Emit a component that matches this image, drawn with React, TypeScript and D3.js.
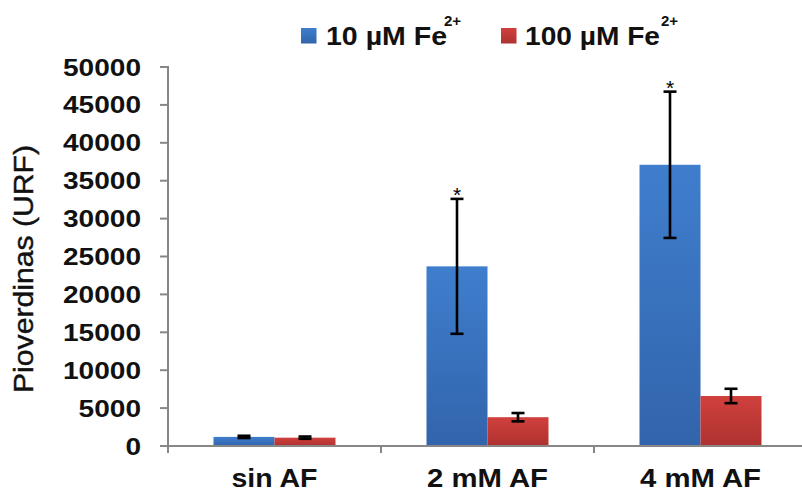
import React from "react";
import * as d3 from "d3";

const categories = ["sin AF", "2 mM AF", "4 mM AF"];
const seriesNames = ["10 µM Fe", "100 µM Fe"];
const values10 = [1200, 23700, 37100];
const errors10 = [150, 8900, 9650];
const values100 = [1100, 3800, 6600];
const errors100 = [150, 550, 950];
const significant10 = [false, true, true];
const yTicks = [0, 5000, 10000, 15000, 20000, 25000, 30000, 35000, 40000, 45000, 50000];

const W = 802;
const H = 491;
const left = 168;
const right = 807;
const y0px = 446;
const ytop = 67;
const FONT = "'Liberation Sans', Arial, Helvetica, sans-serif";

export default function App() {
  const x0 = d3.scaleBand<string>().domain(categories).range([left, right]).padding(0);
  const x1 = d3
    .scaleBand<string>()
    .domain(["s0", "s1"])
    .range([0, x0.bandwidth()])
    .paddingInner(0)
    .paddingOuter(0.746);
  const y = d3.scaleLinear().domain([0, 50000]).range([y0px, ytop]);

  const series = [
    { key: "s0", vals: values10, errs: errors10, fill: "url(#gBlue)" },
    { key: "s1", vals: values100, errs: errors100, fill: "url(#gRed)" },
  ];

  const catTicks = [left, ...categories.map((c) => (x0(c) as number) + x0.bandwidth())];

  return (
    <svg
      width={W}
      height={H}
      style={{ position: "absolute", left: 0, top: 0, background: "#fff" }}
      fontFamily={FONT}
    >
      <defs>
        <linearGradient id="gBlue" x1="0" y1="0" x2="0" y2="1">
          <stop offset="0" stopColor="#3F7ECD" />
          <stop offset="1" stopColor="#3264AC" />
        </linearGradient>
        <linearGradient id="gRed" x1="0" y1="0" x2="0" y2="1">
          <stop offset="0" stopColor="#D0403D" />
          <stop offset="1" stopColor="#AE3230" />
        </linearGradient>
      </defs>
      <rect width={W} height={H} fill="#fff" />

      {/* bars */}
      {series.map((s) =>
        categories.map((c, i) => {
          const bx = (x0(c) as number) + (x1(s.key) as number);
          const bw = x1.bandwidth();
          return (
            <rect
              key={s.key + c}
              x={bx}
              y={y(s.vals[i])}
              width={bw}
              height={y0px - y(s.vals[i])}
              fill={s.fill}
            />
          );
        })
      )}

      {/* axes */}
      <line x1={left} x2={W} y1={y0px} y2={y0px} stroke="#878787" strokeWidth={2} />
      <line x1={left} x2={left} y1={ytop - 1} y2={y0px + 7} stroke="#878787" strokeWidth={2} />
      {yTicks.map((t) => (
        <g key={t}>
          <line x1={left - 8} x2={left} y1={y(t)} y2={y(t)} stroke="#878787" strokeWidth={2} />
          <text
            x={141}
            y={y(t) + 8.5}
            textAnchor="end"
            fontSize={23}
            fontWeight="bold"
            textLength={String(t).length * 15.6}
            lengthAdjust="spacingAndGlyphs"
            fill="#111"
          >
            {t}
          </text>
        </g>
      ))}
      {catTicks.map((t, i) => (
        <line key={i} x1={t} x2={t} y1={y0px} y2={y0px + 7} stroke="#878787" strokeWidth={2} />
      ))}
      {categories.map((c, i) => (
        <text
          key={c}
          x={(x0(c) as number) + x0.bandwidth() / 2}
          y={486.5}
          textAnchor="middle"
          fontSize={25}
          fontWeight="bold"
          textLength={i === 0 ? 86 : 121}
          lengthAdjust="spacingAndGlyphs"
          fill="#111"
        >
          {c}
        </text>
      ))}

      {/* error bars */}
      {series.map((s) =>
        categories.map((c, i) => {
          const cx = (x0(c) as number) + (x1(s.key) as number) + x1.bandwidth() / 2;
          const yt = y(s.vals[i] + s.errs[i]);
          const yb = y(s.vals[i] - s.errs[i]);
          return (
            <g key={"e" + s.key + c} stroke="#000" strokeWidth={2.6}>
              <line x1={cx} x2={cx} y1={yt} y2={yb} />
              <line x1={cx - 6.5} x2={cx + 6.5} y1={yt} y2={yt} />
              <line x1={cx - 6.5} x2={cx + 6.5} y1={yb} y2={yb} />
            </g>
          );
        })
      )}

      {/* significance */}
      {categories.map((c, i) =>
        significant10[i] ? (
          <text
            key={"a" + c}
            x={(x0(c) as number) + (x1("s0") as number) + x1.bandwidth() / 2}
            y={y(values10[i] + errors10[i]) + 3}
            textAnchor="middle"
            fontSize={21}
            fill="#000"
          >
            *
          </text>
        ) : null
      )}

      {/* y title */}
      <text
        transform={`translate(33,269) rotate(-90)`}
        textAnchor="middle"
        fontSize={28}
        textLength={248}
        lengthAdjust="spacingAndGlyphs"
        fill="#111"
        stroke="#111"
        strokeWidth={0.4}
      >
        Pioverdinas (URF)
      </text>

      {/* legend */}
      <rect x={301} y={28} width={15.5} height={15.5} fill="url(#gBlue)" />
      <text x={326} y={45} fontSize={25} fontWeight="bold" textLength={121} lengthAdjust="spacingAndGlyphs" fill="#111">
        {seriesNames[0]}
      </text>
      <text x={444} y={26} fontSize={15} fontWeight="bold" fill="#111">
        2+
      </text>
      <rect x={501} y={28} width={15.5} height={15.5} fill="url(#gRed)" />
      <text x={525} y={45} fontSize={25} fontWeight="bold" textLength={135} lengthAdjust="spacingAndGlyphs" fill="#111">
        {seriesNames[1]}
      </text>
      <text x={661} y={26} fontSize={15} fontWeight="bold" fill="#111">
        2+
      </text>
    </svg>
  );
}
